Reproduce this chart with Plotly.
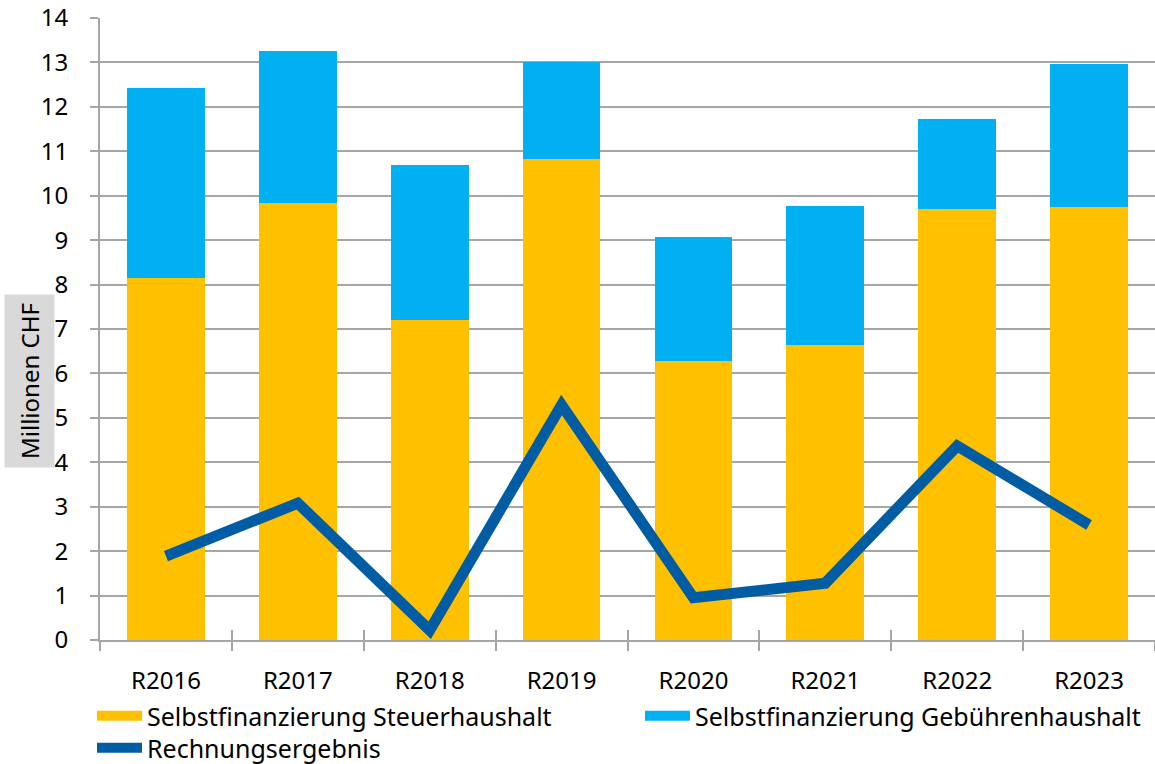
import plotly.graph_objects as go

categories = ["R2016", "R2017", "R2018", "R2019", "R2020", "R2021", "R2022", "R2023"]
steuer = [8.15, 9.84, 7.20, 10.83, 6.28, 6.64, 9.70, 9.75]
gebuehren = [4.27, 3.42, 3.49, 2.18, 2.79, 3.13, 2.03, 3.21]
ergebnis = [1.89, 3.08, 0.22, 5.29, 0.95, 1.28, 4.37, 2.59]
y_ticks = list(range(0, 15))

FONT = "Noto Sans"
GRID = "#A6A6A6"
C_STEUER = "#FFC000"
C_GEB = "#00B0F0"
C_LINE = "#005CA3"

fig = go.Figure()
fig.add_trace(go.Bar(x=categories, y=steuer, name="Selbstfinanzierung Steuerhaushalt",
                     marker=dict(color=C_STEUER, line=dict(width=0)), showlegend=False))
fig.add_trace(go.Bar(x=categories, y=gebuehren, name="Selbstfinanzierung Gebührenhaushalt",
                     marker=dict(color=C_GEB, line=dict(width=0)), showlegend=False))
fig.add_trace(go.Scatter(x=categories, y=ergebnis, name="Rechnungsergebnis", mode="lines",
                         line=dict(color=C_LINE, width=11), legend="legend3"))
# legend entries for the bar series (wide rectangular swatches)
fig.add_trace(go.Scatter(x=[None], y=[None], mode="lines", name="Selbstfinanzierung Steuerhaushalt",
                         line=dict(color=C_STEUER, width=16), legend="legend", hoverinfo="skip"))
fig.add_trace(go.Scatter(x=[None], y=[None], mode="lines", name="Selbstfinanzierung Gebührenhaushalt",
                         line=dict(color=C_GEB, width=16), legend="legend2", hoverinfo="skip"))
# overlay axis for inward part of category ticks
fig.add_trace(go.Scatter(x=categories, y=[None]*len(categories), xaxis="x2", showlegend=False,
                         hoverinfo="skip"))

legend_common = dict(orientation="h", xref="container", yref="container",
                     xanchor="left", yanchor="middle", bgcolor="rgba(0,0,0,0)",
                     font=dict(family=FONT, size=25, color="#000000"), itemwidth=45)

fig.update_layout(
    width=1155, height=764,
    barmode="stack", bargap=0.41,
    plot_bgcolor="white", paper_bgcolor="white",
    margin=dict(l=100, r=0, t=18, b=124, autoexpand=False),
    font=dict(family=FONT, size=24, color="#000000"),
    xaxis=dict(type="category", showgrid=False, showline=True, linecolor=GRID, linewidth=2,
               ticks="outside", tickson="boundaries", ticklen=9, tickcolor=GRID, tickwidth=1.5,
               tickfont=dict(family=FONT, size=24, color="#000"), ticklabelstandoff=18,
               range=[-0.5, 7.5]),
    xaxis2=dict(type="category", overlaying="x", anchor="y", side="bottom",
                showgrid=False, showline=False, showticklabels=False,
                ticks="inside", tickson="boundaries", ticklen=10, tickcolor=GRID, tickwidth=1.5,
                range=[-0.5, 7.5]),
    yaxis=dict(range=[0, 14], tickvals=y_ticks, showgrid=True, gridcolor=GRID, gridwidth=1.5,
               showline=True, linecolor=GRID, linewidth=2, zeroline=False,
               ticks="outside", ticklen=8, tickcolor=GRID, tickwidth=1.5,
               tickfont=dict(family=FONT, size=24, color="#000"), ticklabelstandoff=17),
    legend=dict(x=92/1155, y=1-716/764, **legend_common),
    legend2=dict(x=640/1155, y=1-716/764, **legend_common),
    legend3=dict(x=92/1155, y=1-748/764, **legend_common),
    showlegend=True,
    annotations=[dict(text="Millionen CHF", textangle=-90, xref="paper", yref="paper",
                      x=(29-100)/1055, y=(640-381)/622, showarrow=False,
                      xanchor="center", yanchor="middle",
                      bgcolor="#D9D9D9", borderpad=8,
                      font=dict(family=FONT, size=24, color="#000"))],
)

fig.write_html("out.html", config={"displayModeBar": False},
               post_script="document.body.style.margin='0';")
